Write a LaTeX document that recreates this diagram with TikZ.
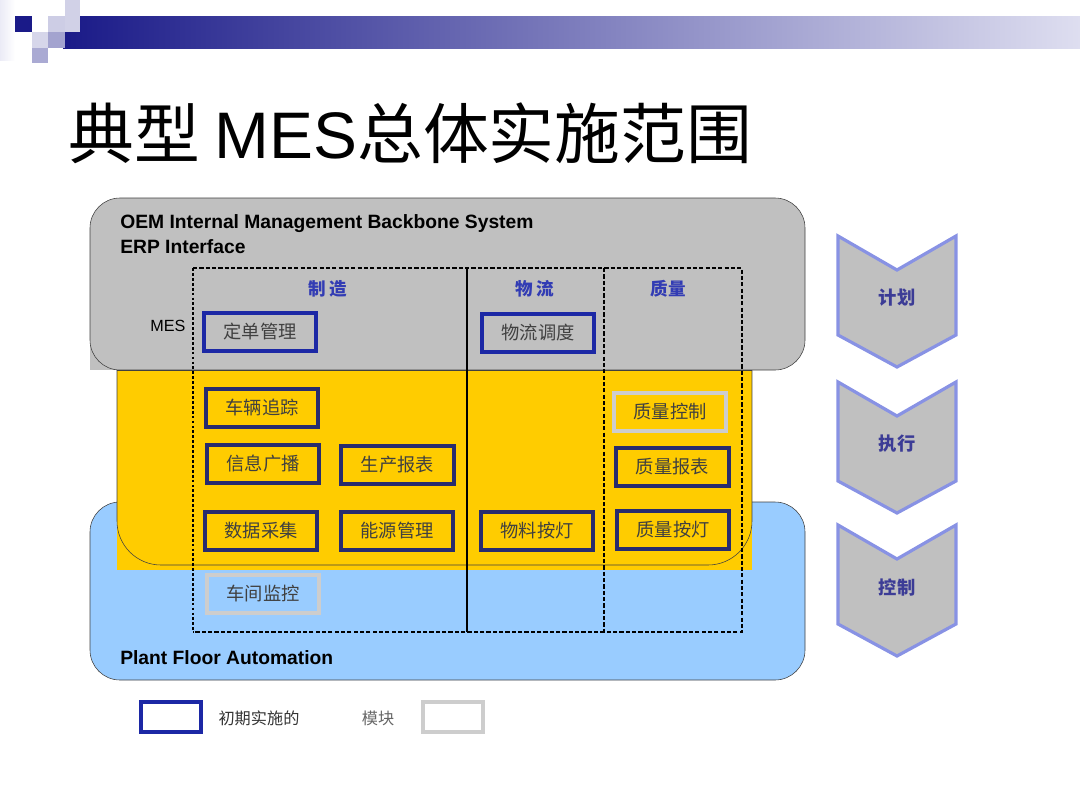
\documentclass[tikz,border=0pt]{standalone}
\usepackage{fontspec}
\setmainfont{Liberation Sans}
\newfontfamily\cjk{Noto Sans CJK SC}
\definecolor{mesgray}{RGB}{192,192,192}
\definecolor{mesyellow}{RGB}{255,204,0}
\definecolor{mesblue}{RGB}{153,204,255}
\definecolor{modblue}{RGB}{28,40,165}
\definecolor{modnavy}{RGB}{40,44,110}
\definecolor{modlight}{RGB}{205,205,205}
\definecolor{headblue}{RGB}{50,60,180}
\definecolor{chevline}{RGB}{136,146,228}
\definecolor{chevtext}{RGB}{60,60,150}
\definecolor{bardark}{RGB}{26,26,136}
\definecolor{barmid}{RGB}{120,120,190}
\definecolor{barlight}{RGB}{222,222,240}
\tikzset{
  module/.style={draw=modnavy, line width=0.1cm, minimum width=2.8cm, minimum height=0.95cm,
    inner sep=0pt, font=\cjk\fontsize{13}{15}\selectfont, text=black!75},
  modfirst/.style={module, draw=modblue},
  modlater/.style={module, draw=modlight},
  colhead/.style={font=\cjk\bfseries\fontsize{12.5}{14}\selectfont, text=headblue},
  chevron/.style={fill=mesgray, draw=chevline, line width=0.08cm, line join=miter},
  chevlabel/.style={font=\cjk\bfseries\fontsize{13}{15}\selectfont, text=chevtext},
  layerlabel/.style={font=\bfseries\fontsize{13.7}{15}\selectfont, anchor=west, inner sep=0pt},
  dashpat/.style={line width=1.1pt, dash pattern=on 3pt off 1.5pt},
  dotpat/.style={line width=2pt, dash pattern=on 2pt off 1.5pt}
}
\begin{document}
\begin{tikzpicture}[x=0.025cm, y=-0.025cm]
  \useasboundingbox (0,0) rectangle (1080,810);

  % header bar and squares
  \shade[left color=barlight!60, right color=white] (0,0) rectangle (15,60);
  \shade[left color=bardark, middle color=barmid, right color=barlight] (63,16) rectangle (1080,48);
  \fill[bardark] (15,16) rectangle (32,32);
  \fill[bardark!20] (65,0) rectangle (80,32);
  \fill[bardark!22] (48,16) rectangle (65,32);
  \fill[bardark!18] (32,32) rectangle (48,48);
  \fill[bardark!40] (48,32) rectangle (65,48);
  \fill[bardark!37] (32,48) rectangle (48,63);

  % title
  \node[anchor=west, inner sep=0pt] (title) at (68,133)
    {\fontsize{46.8}{50}\selectfont\cjk 典型 \rmfamily MES\cjk 总体实施范围};

  % layers
  \fill[mesblue, rounded corners=0.75cm] (90,502) rectangle (805,680);
  \draw[black!75, rounded corners=0.75cm] (90,502) rectangle (805,680);
  \fill[mesgray] (90,345) rectangle (120,370);
  \fill[mesgray, rounded corners=0.75cm] (90,198) rectangle (805,370);
  \draw[black!75, rounded corners=0.75cm] (90,198) rectangle (805,370);
  \fill[mesyellow] (117,370) rectangle (752,570);
  \draw[black!75, rounded corners=1.1cm] (117,370) -- (117,565) -- (752,565) -- (752,370);
  \draw[black!75] (117,370) -- (752,370);

  \node[layerlabel] (oem) at (120,224) {OEM Internal Management Backbone System};
  \node[layerlabel] (erp) at (120,247) {ERP Interface};
  \node[layerlabel] (plant) at (120,658) {Plant Floor Automation};
  \node[font=\fontsize{11.5}{13}\selectfont] (meslbl) at (168,326) {MES};

  % MES columns
  \draw[dashpat] (193,268) -- (742,268) -- (742,632) -- (193,632);
  \draw[dotpat] (193,268) -- (193,632);
  \draw[line width=0.9pt] (467,268) -- (467,632);
  \draw[dashpat] (604,268) -- (604,632);

  \node[colhead] (zhizao) at (328,289) {制\,造};
  \node[colhead] (wuliu) at (535,289) {物\,流};
  \node[colhead] (zhiliang) at (668,289) {质量};

  % modules
  \node[modfirst] (dingdan) at (260,332) {定单管理};
  \node[modfirst] (diaodu) at (538,332.5) {物流调度};
  \node[module] (cheliang) at (262,407.5) {车辆追踪};
  \node[module] (xinxi) at (263,464) {信息广播};
  \node[module] (shengchan) at (397.5,464.5) {生产报表};
  \node[module] (shuju) at (261,530.5) {数据采集};
  \node[module] (nengyuan) at (397,530.5) {能源管理};
  \node[module] (wuliao) at (537,530.5) {物料按灯};
  \node[modlater] (kongzhi) at (670,412) {质量控制};
  \node[module] (baobiao) at (672.5,466.5) {质量报表};
  \node[module] (andeng) at (673,529.5) {质量按灯};
  \node[modlater] (jiankong) at (263,593.5) {车间监控};

  % chevrons
  \foreach \y/\t/\n in {236/计划/plan, 382/执行/exec, 525/控制/ctrl} {
    \draw[chevron] (838,\y) -- (897,\y+34) -- (956,\y) -- (956,\y+99)
      -- (897,\y+131) -- (838,\y+99) -- cycle;
    \node[chevlabel] (\n) at (897,\y+62) {\t};
  }

  % legend
  \node[modfirst, minimum width=1.5cm, minimum height=0.75cm] (legfirst) at (171,717) {};
  \node[font=\cjk\fontsize{11.5}{13}\selectfont, text=black!80] (legtext) at (259,718) {初期实施的};
  \node[font=\cjk\fontsize{11.5}{13}\selectfont, text=black!60] (legmod) at (378,718) {模块};
  \node[modlater, minimum width=1.5cm, minimum height=0.75cm] (leglater) at (453,716.5) {};
\end{tikzpicture}
\end{document}
